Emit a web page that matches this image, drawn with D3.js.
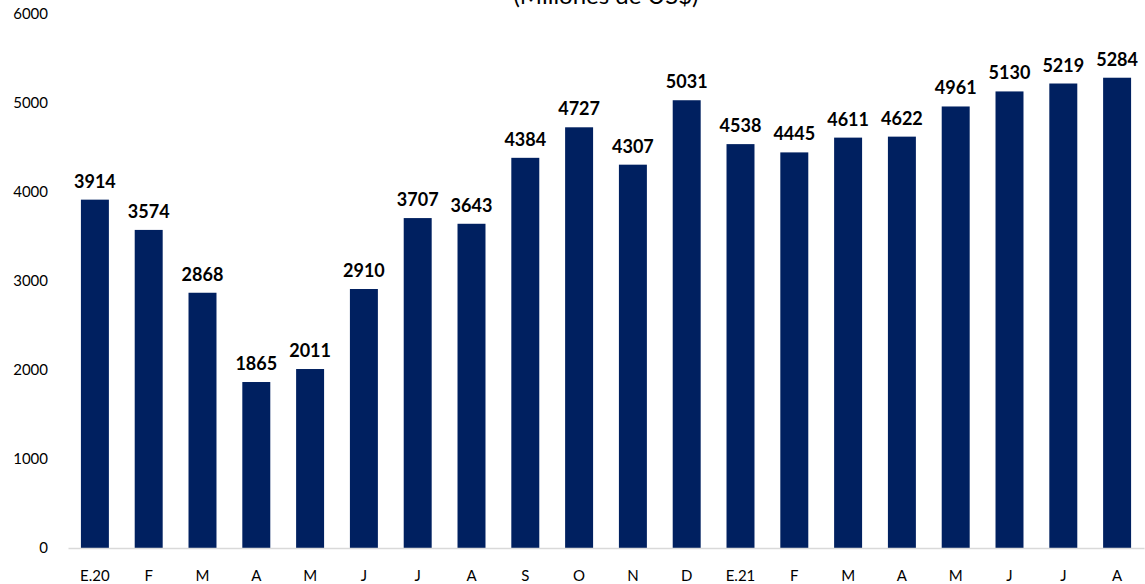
<!DOCTYPE html>
<html>
<head>
<meta charset="utf-8">
<script src="https://cdn.jsdelivr.net/npm/d3@7"></script>
<style>
    body { margin: 0; background: #fff; }
    svg { display: block; font-family: Lato, "Open Sans", sans-serif; }
</style>
</head>
<body>
<div id="chart"></div>
<script>
// Data
const months = ["E.20", "F", "M", "A", "M", "J", "J", "A", "S", "O", "N", "D",
    "E.21", "F", "M", "A", "M", "J", "J", "A"];
const values = [3914, 3574, 2868, 1865, 2011, 2910, 3707, 3643, 4384, 4727, 4307, 5031,
    4538, 4445, 4611, 4622, 4961, 5130, 5219, 5284];
const yTicks = [0, 1000, 2000, 3000, 4000, 5000, 6000];

const width = 1145, height = 584;
const margin = { top: 14, right: 1, bottom: 36, left: 68 };
const innerWidth = width - margin.left - margin.right;
const innerHeight = height - margin.top - margin.bottom;

const data = months.map((m, i) => ({ key: i, label: m, value: values[i] }));

const xScale = d3.scaleBand()
    .domain(data.map(d => d.key))
    .range([0, innerWidth])
    .paddingInner(0.48)
    .paddingOuter(0.24);

const yScale = d3.scaleLinear()
    .domain([0, 6000])
    .range([innerHeight, 0]);

const svg = d3.select("#chart").append("svg")
    .attr("width", width)
    .attr("height", height);

// Title, cut off at the top edge as in the original
svg.append("text")
    .attr("x", margin.left + innerWidth / 2)
    .attr("y", 4)
    .attr("text-anchor", "middle")
    .style("font-size", "24px")
    .style("fill", "#000")
    .text("(Millones de US$)");

const g = svg.append("g")
    .attr("transform", "translate(" + margin.left + "," + margin.top + ")");

// Y axis labels (no line, no ticks)
const yAxis = d3.axisLeft(yScale).tickValues(yTicks).tickSize(0).tickPadding(20)
    .tickFormat(d3.format("d"));
g.append("g")
    .call(yAxis)
    .call(a => a.select(".domain").remove())
    .selectAll("text")
    .style("font-family", "Lato, 'Open Sans', sans-serif")
    .style("font-size", "15px")
    .style("fill", "#000");

// Bars
g.selectAll(".bar")
    .data(data)
    .join("rect")
    .attr("class", "bar")
    .attr("x", d => xScale(d.key))
    .attr("y", d => yScale(d.value))
    .attr("width", xScale.bandwidth())
    .attr("height", d => innerHeight - yScale(d.value))
    .attr("fill", "#002060");

// Value labels
g.selectAll(".val")
    .data(data)
    .join("text")
    .attr("class", "val")
    .attr("x", d => xScale(d.key) + xScale.bandwidth() / 2)
    .attr("y", d => yScale(d.value) - 12)
    .attr("text-anchor", "middle")
    .style("font-size", "18px")
    .style("font-weight", "bold")
    .style("fill", "#000")
    .text(d => d.value);

// X axis
const xAxis = d3.axisBottom(xScale).tickSize(0).tickPadding(22).tickFormat(k => months[k]);
g.append("g")
    .attr("transform", `translate(0,${innerHeight})`)
    .call(xAxis)
    .call(a => a.select(".domain").attr("stroke", "#d9d9d9").attr("stroke-width", 1.5))
    .selectAll("text")
    .style("font-family", "Lato, 'Open Sans', sans-serif")
    .style("font-size", "15px")
    .style("fill", "#000");
</script>
</body>
</html>
